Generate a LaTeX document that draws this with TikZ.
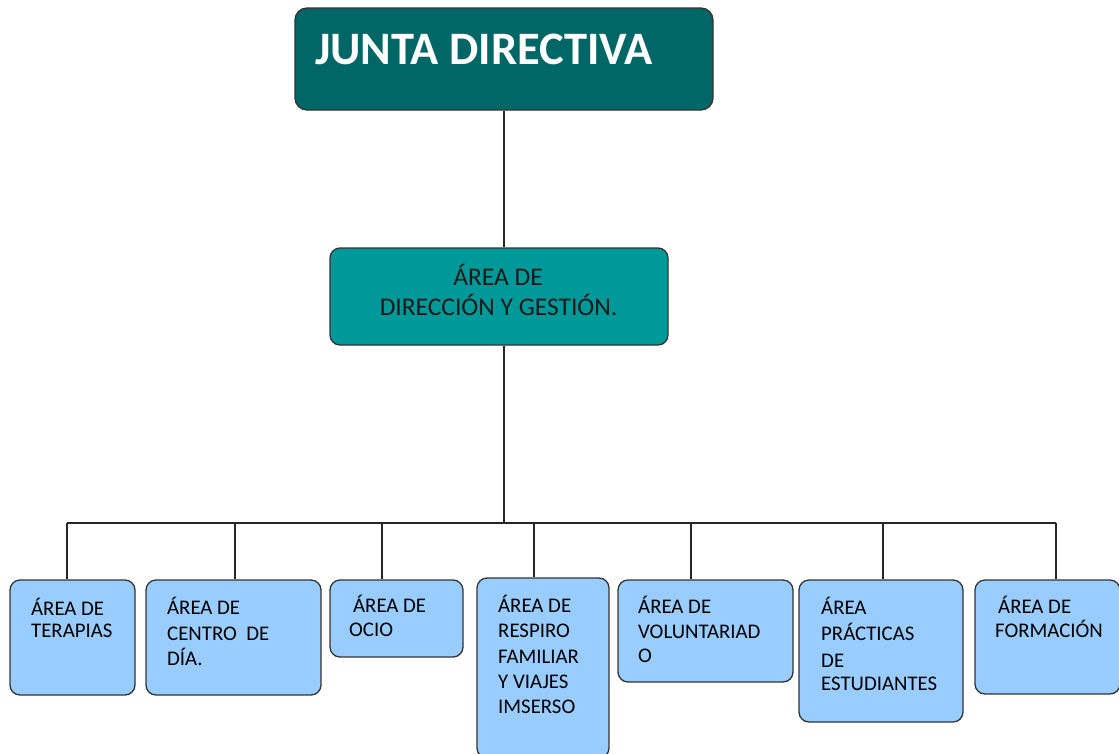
\documentclass[tikz,border=0pt]{standalone}
\usepackage{fontspec}
\setmainfont{Carlito}
\definecolor{topfill}{HTML}{006666}
\definecolor{midfill}{HTML}{009999}
\definecolor{lowfill}{HTML}{99CCFF}
\definecolor{edgegray}{HTML}{333333}
\begin{document}
\begin{tikzpicture}[x=1pt,y=-1pt,
  box/.style={draw=edgegray, line width=1.3pt, rounded corners=10pt, inner sep=0pt, minimum width=#1},
  lowbox/.style={box=#1, fill=lowfill},
  lowtxt/.style={anchor=base west, inner sep=0pt, text=black, font=\fontsize{20.8}{24}\selectfont},
  conn/.style={draw=black!85, line width=1.3pt}
]
\useasboundingbox (0,0) rectangle (1119,753);
\fill[white] (0,0) rectangle (1119,753);

% top box
\node[box=418pt, fill=topfill, minimum height=102pt, rounded corners=12pt] (junta) at (504,59) {};
\node[anchor=base west, inner sep=0pt, text=white, font=\fontsize{46.5}{50}\selectfont\bfseries] (juntat) at (315,64) {JUNTA DIRECTIVA};

% middle box
\node[box=338pt, fill=midfill, minimum height=97pt] (dir) at (499,296.5) {};
\node[anchor=base, inner sep=0pt, text=black!90, font=\fontsize{25.5}{30}\selectfont] (dirt1) at (498,285) {ÁREA DE};
\node[anchor=base, inner sep=0pt, text=black!90, font=\fontsize{25.5}{30}\selectfont] (dirt2) at (498.5,315) {DIRECCIÓN Y GESTIÓN.};

% bottom boxes
\node[lowbox=125pt, minimum height=115pt] (b1) at (72.5,637.5) {};
\node[lowbox=175pt, minimum height=115pt] (b2) at (233.5,637.5) {};
\node[lowbox=133pt, minimum height=77pt] (b3) at (396.5,618.5) {};
\node[lowbox=132pt, minimum height=180pt] (b4) at (543,668) {};
\node[lowbox=175pt, minimum height=102pt] (b5) at (705.5,631) {};
\node[lowbox=164pt, minimum height=142pt] (b6) at (881,651) {};
\node[lowbox=145pt, minimum height=114pt] (b7) at (1047.5,637) {};

% bottom texts
\node[lowtxt] (t1a) at (31,615) {ÁREA DE};
\node[lowtxt] (t1b) at (31,637) {TERAPIAS};
\node[lowtxt] (t2a) at (167,614) {ÁREA DE};
\node[lowtxt] (t2b) at (167,640) {CENTRO\ \ DE};
\node[lowtxt] (t2c) at (167,665) {DÍA.};
\node[lowtxt] (t3a) at (353,612) {ÁREA DE};
\node[lowtxt] (t3b) at (349,636) {OCIO};
\node[lowtxt] (t4a) at (498,612) {ÁREA DE};
\node[lowtxt] (t4b) at (498,637) {RESPIRO};
\node[lowtxt] (t4c) at (498,663) {FAMILIAR};
\node[lowtxt] (t4d) at (498,688) {Y VIAJES};
\node[lowtxt] (t4e) at (498,713) {IMSERSO};
\node[lowtxt] (t5a) at (638,613) {ÁREA DE};
\node[lowtxt] (t5b) at (638,638) {VOLUNTARIAD};
\node[lowtxt] (t5c) at (638,662) {O};
\node[lowtxt] (t6a) at (821,614) {ÁREA};
\node[lowtxt] (t6b) at (821,640) {PRÁCTICAS};
\node[lowtxt] (t6c) at (821,667) {DE};
\node[lowtxt] (t6d) at (821,690) {ESTUDIANTES};
\node[lowtxt] (t7a) at (998,613) {ÁREA DE};
\node[lowtxt] (t7b) at (995,637) {FORMACIÓN};

% connectors
\coordinate (bus) at (504,523);
\coordinate (d1) at (67,523);
\coordinate (d2) at (235,523);
\coordinate (d3) at (382,523);
\coordinate (d4) at (534,523);
\coordinate (d5) at (691,523);
\coordinate (d6) at (883,523);
\coordinate (d7) at (1056,523);
\draw[conn] (junta.south) -- (junta.south |- dir.north);
\draw[conn] (dir.south -| bus) -- (bus);
\draw[conn] (d1) -- (d7);
\draw[conn] (d1) -- (d1 |- b1.north);
\draw[conn] (d2) -- (d2 |- b2.north);
\draw[conn] (d3) -- (d3 |- b3.north);
\draw[conn] (d4) -- (d4 |- b4.north);
\draw[conn] (d5) -- (d5 |- b5.north);
\draw[conn] (d6) -- (d6 |- b6.north);
\draw[conn] (d7) -- (d7 |- b7.north);
\end{tikzpicture}
\end{document}
